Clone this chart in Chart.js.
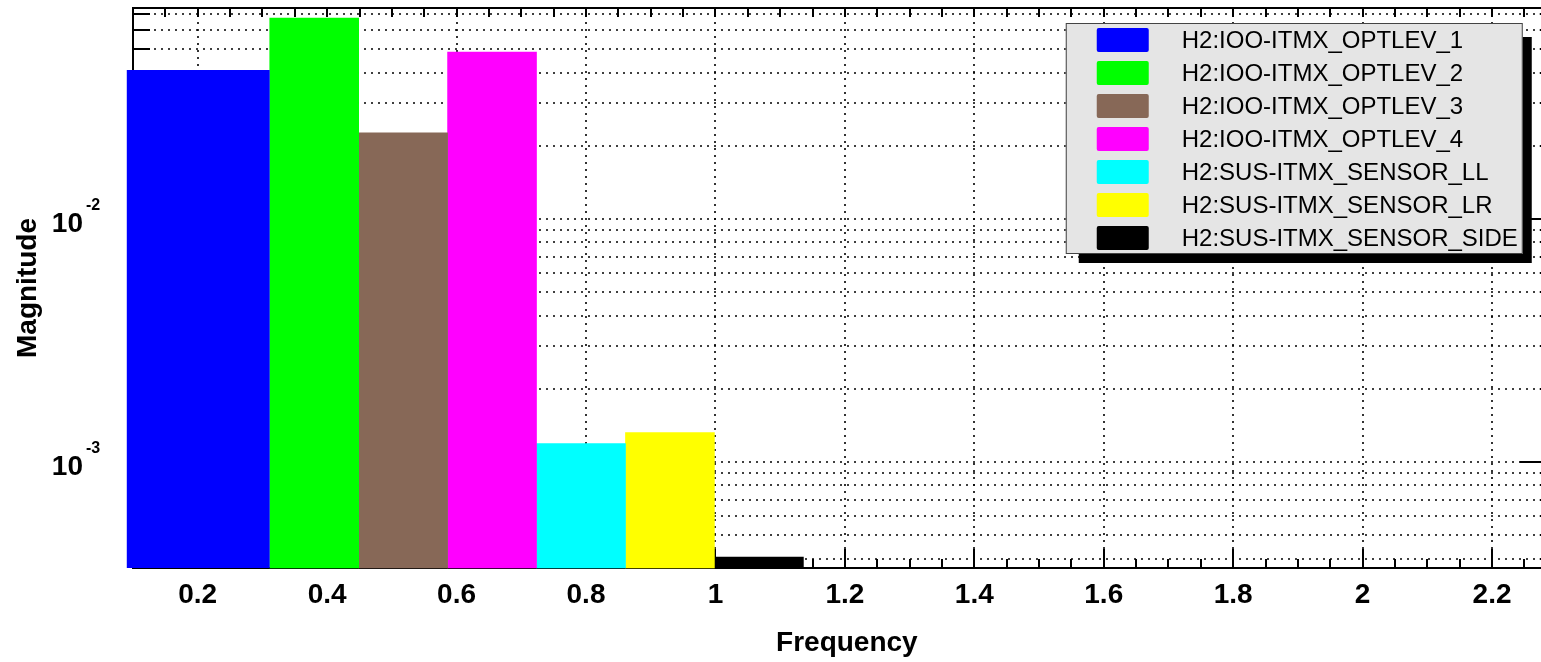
<!DOCTYPE html>
<html>
<head>
<meta charset="utf-8">
<title>Magnitude vs Frequency</title>
<script src="https://cdn.jsdelivr.net/npm/chart.js@4.4.1/dist/chart.umd.min.js"></script>
<style>
  body { margin: 0; overflow: hidden; background: #fff; }
  #wrap { width: 1570px; height: 662px; }
</style>
</head>
<body>
<div id="wrap"><canvas id="myChart" width="1570" height="662"></canvas></div>
<script>
// channel names (legend order)
const channels = [
  "H2:IOO-ITMX_OPTLEV_1",
  "H2:IOO-ITMX_OPTLEV_2",
  "H2:IOO-ITMX_OPTLEV_3",
  "H2:IOO-ITMX_OPTLEV_4",
  "H2:SUS-ITMX_SENSOR_LL",
  "H2:SUS-ITMX_SENSOR_LR",
  "H2:SUS-ITMX_SENSOR_SIDE"
];
// bar positions on the frequency axis and their magnitudes
const frequencies = [0.2008, 0.380, 0.5174, 0.6548, 0.7923, 0.9297, 1.0672];
const magnitudes = [0.0410, 0.0671, 0.0226, 0.0486, 0.00119, 0.00132, 0.000406];
const barColors = ["#0000ff", "#00ff00", "#876857", "#ff00ff", "#00ffff", "#ffff00", "#000000"];

// axis ranges and tick labels
const xMin = 0.1, xMax = 2.3;
const yMin = 3.66e-4, yMax = 0.0738;
const xTickLabels = ["0.2", "0.4", "0.6", "0.8", "1", "1.2", "1.4", "1.6", "1.8", "2", "2.2"];
const yTickLabels = [{ base: "10", exp: "-3", value: 1e-3 }, { base: "10", exp: "-2", value: 1e-2 }];

const fontFamily = '"Liberation Sans", Arial, sans-serif';

// all log ticks (1..9 x 10^n) inside the y range
function logTicks(scale) {
  var out = [];
  for (var e = -5; e <= 0; e++) {
    for (var m = 1; m <= 9; m++) {
      var v = m * Math.pow(10, e);
      if (v >= scale.min * 0.999 && v <= scale.max * 1.001) out.push({ v: v, major: m === 1 });
    }
  }
  return out;
}

function hLine(ctx, x1, x2, y) {
  ctx.beginPath(); ctx.moveTo(x1, y); ctx.lineTo(x2, y); ctx.stroke();
}
function vLine(ctx, x, y1, y2) {
  ctx.beginPath(); ctx.moveTo(x, y1); ctx.lineTo(x, y2); ctx.stroke();
}

// matlab-like box axes: dotted grid, inner ticks, frame and labels
const matlabAxes = {
  id: "matlabAxes",
  beforeDatasetsDraw(chart) {
    const ctx = chart.ctx;
    const a = chart.chartArea;
    const xs = chart.scales.x, ys = chart.scales.y;
    const yt = logTicks(ys);
    ctx.save();

    // dotted grid
    ctx.strokeStyle = "#000";
    ctx.lineWidth = 1.6;
    ctx.setLineDash([2, 5]);
    xTickLabels.forEach(function (t) {
      var px = Math.round(xs.getPixelForValue(parseFloat(t)));
      vLine(ctx, px, a.top, a.bottom);
    });
    yt.forEach(function (t) {
      var py = Math.round(ys.getPixelForValue(t.v));
      hLine(ctx, a.left, a.right, py);
    });
    ctx.setLineDash([]);

    // x ticks (every 0.05, majors every 0.2)
    ctx.lineWidth = 2;
    for (var i = 2; i <= 46; i++) {
      var v = i * 0.05;
      var px = Math.round(xs.getPixelForValue(v));
      var major = i % 4 === 0;
      vLine(ctx, px, a.bottom, a.bottom - (major ? 19 : 9));
      vLine(ctx, px, a.top, a.top + 9);
    }
    // y ticks
    yt.forEach(function (t) {
      var py = Math.round(ys.getPixelForValue(t.v));
      var len = t.major ? 37 : 17;
      hLine(ctx, a.left, a.left + len, py);
      hLine(ctx, a.right - len, a.right, py);
    });

    // frame
    ctx.strokeRect(a.left, a.top, a.right - a.left, a.bottom - a.top);

    // tick labels
    ctx.fillStyle = "#000";
    ctx.font = "bold 28px " + fontFamily;
    ctx.textAlign = "center";
    ctx.textBaseline = "alphabetic";
    xTickLabels.forEach(function (t) {
      ctx.fillText(t, xs.getPixelForValue(parseFloat(t)), a.bottom + 35);
    });
    yTickLabels.forEach(function (t) {
      var py = ys.getPixelForValue(t.value);
      ctx.font = "bold 28px " + fontFamily;
      ctx.textAlign = "right";
      ctx.fillText(t.base, a.left - 50, py + 13);
      ctx.font = "bold 16px " + fontFamily;
      ctx.textAlign = "left";
      ctx.fillText(t.exp, a.left - 47, py - 9);
    });

    // axis titles
    ctx.font = "bold 28px " + fontFamily;
    ctx.textAlign = "center";
    ctx.fillText("Frequency", (a.left + a.right) / 2 + 2, a.bottom + 83);
    ctx.save();
    ctx.translate(36, (a.top + a.bottom) / 2);
    ctx.rotate(-Math.PI / 2);
    ctx.fillText("Magnitude", 0, 0);
    ctx.restore();

    ctx.restore();
  },
  // legend box with drop shadow, inside the axes
  afterDraw(chart) {
    const ctx = chart.ctx;
    const a = chart.chartArea;
    const sets = chart.data.datasets;
    const bx = a.right - 491, by = a.top + 15, bw = 457, bh = 231;
    ctx.save();
    ctx.fillStyle = "#000";
    ctx.fillRect(bx + 13, by + 14, bw - 4, bh - 5);
    ctx.fillStyle = "#e5e5e5";
    ctx.fillRect(bx, by, bw, bh);
    ctx.strokeStyle = "#444";
    ctx.lineWidth = 1;
    ctx.strokeRect(bx + 0.5, by + 0.5, bw - 1, bh - 1);
    ctx.font = "24px " + fontFamily;
    ctx.textAlign = "left";
    ctx.textBaseline = "middle";
    sets.forEach(function (ds, i) {
      var cy = by + 17 + i * 33;
      ctx.fillStyle = ds.backgroundColor;
      ctx.beginPath();
      ctx.roundRect(bx + 31, cy - 12, 52, 24, 2);
      ctx.fill();
      ctx.fillStyle = "#000";
      ctx.fillText(ds.label, bx + 116, cy + 1);
    });
    ctx.restore();
  }
};

document.addEventListener("DOMContentLoaded", function () {
  var ctx = document.getElementById("myChart").getContext("2d");

  var datasets = channels.map(function (name, i) {
    return {
      label: name,
      data: [{ x: frequencies[i], y: magnitudes[i] }],
      backgroundColor: barColors[i],
      borderWidth: 0,
      grouped: false,
      categoryPercentage: 1,
      barPercentage: i === 0 ? 1.607 : 1,
      clip: false
    };
  });

  new Chart(ctx, {
    type: "bar",
    data: { datasets: datasets },
    options: {
      responsive: false,
      devicePixelRatio: 1,
      animation: false,
      layout: { padding: { left: 0, top: 8, right: 13.25, bottom: 0 } },
      plugins: { legend: { display: false }, tooltip: { enabled: false } },
      scales: {
        x: {
          type: "linear",
          min: xMin,
          max: xMax,
          offset: false,
          grid: { display: false },
          border: { display: false },
          ticks: { display: false, stepSize: 0.2, includeBounds: false },
          afterFit: function (s) { s.height = 94; }
        },
        y: {
          type: "logarithmic",
          min: yMin,
          max: yMax,
          grid: { display: false },
          border: { display: false },
          ticks: { display: false },
          afterFit: function (s) { s.width = 133; }
        }
      }
    },
    plugins: [matlabAxes]
  });
});
</script>
</body>
</html>
